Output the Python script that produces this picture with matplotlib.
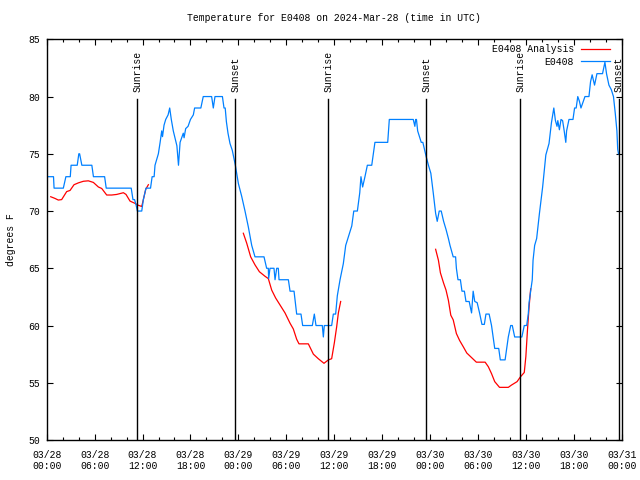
import numpy as np
import pandas as pd
import matplotlib
matplotlib.use("Agg")
import matplotlib.pyplot as plt
import matplotlib.dates as mdates
from matplotlib.ticker import MultipleLocator

# hours since 2024-03-28 00:00 UTC
obs_hours = [
    0.0, 0.85, 0.92, 2.08, 2.4, 2.95, 3.05, 3.82, 4.02, 4.12,
    4.4, 5.65, 5.85, 7.25, 7.45, 10.58, 10.8, 11.0, 11.2, 11.35,
    11.9, 12.1, 12.43, 13.0, 13.2, 13.45, 13.56, 13.98, 14.2, 14.4,
    14.5, 14.69, 14.9, 15.2, 15.4, 15.6, 15.85, 16.06, 16.3, 16.5,
    16.7, 16.9, 17.1, 17.2, 17.4, 17.7, 18.0, 18.36, 18.52, 19.3,
    19.6, 20.65, 20.86, 21.07, 22.0, 22.2, 22.35, 22.5, 22.7, 22.95,
    23.24, 23.62, 24.0, 24.41, 24.83, 25.25, 25.67, 26.08, 27.21, 27.54,
    27.75, 27.79, 27.96, 28.46, 28.59, 28.8, 29.0, 29.09, 30.26, 30.47,
    30.97, 31.3, 31.84, 32.05, 33.26, 33.51, 33.72, 34.51, 34.64, 34.76,
    35.68, 35.89, 36.18, 36.39, 36.73, 37.14, 37.44, 37.8, 38.2, 38.45,
    38.9, 39.2, 39.35, 39.56, 39.85, 40.15, 40.7, 40.9, 41.1, 42.7,
    42.9, 45.9, 46.1, 46.2, 46.3, 46.45, 46.9, 47.1, 47.5, 47.8,
    48.1, 48.4, 48.7, 48.9, 49.15, 49.4, 49.7, 50.0, 50.3, 50.5,
    50.9, 51.2, 51.3, 51.5, 51.8, 52.0, 52.3, 52.5, 52.9, 53.2,
    53.4, 53.6, 53.9, 54.2, 54.5, 54.8, 55.0, 55.4, 55.7, 55.9,
    56.1, 56.6, 56.8, 57.4, 57.6, 57.8, 58.1, 58.3, 58.6, 59.5,
    59.8, 60.1, 60.3, 60.4, 60.6, 60.8, 60.9, 61.1, 61.35, 61.7,
    62.1, 62.5, 62.9, 63.2, 63.5, 63.7, 63.9, 64.0, 64.2, 64.4,
    64.6, 64.8, 65.0, 65.1, 65.4, 65.9, 66.1, 66.3, 66.5, 66.7,
    66.9, 67.4, 67.9, 68.1, 68.3, 68.6, 68.9, 69.6, 69.9, 70.1,
    70.4, 70.7, 70.97, 71.2, 71.4, 71.5, 71.6,
]
obs_temps = [
    73, 73, 72, 72, 73, 73, 74, 74, 75, 75,
    74, 74, 73, 73, 72, 72, 71, 71, 70.5, 70,
    70, 71, 72, 72, 73, 73, 74, 75, 76, 77,
    76.5, 77.5, 78, 78.4, 79, 78, 77, 76.4, 75.7, 74,
    76, 76.4, 76.8, 76.4, 77.2, 77.4, 78, 78.4, 79, 79,
    80, 80, 79, 80, 80, 79, 79, 77.8, 76.8, 75.9,
    75.3, 74, 72.4, 71.3, 70, 68.6, 67, 66, 66, 65,
    65, 64.1, 65, 65, 64, 65, 65, 64, 64, 63,
    63, 61, 61, 60, 60, 61, 60, 60, 59, 60,
    60, 61, 61, 62.6, 64, 65.4, 67, 67.8, 68.7, 70,
    70, 71.6, 73, 72.1, 73, 74, 74, 75, 76, 76,
    78, 78, 77.4, 78, 78, 77, 76, 76, 74.8, 74,
    73.3, 71.6, 69.8, 69.1, 70, 70, 69.1, 68.4, 67.6, 67,
    66, 66, 65, 64, 64, 63, 63, 62.1, 62.1, 61.1,
    63, 62.1, 62, 61.1, 60.1, 60.1, 61, 61, 60, 59,
    58, 58, 57, 57, 58, 59, 60, 60, 59, 59,
    60, 60, 61, 62, 63, 64, 65.7, 67, 67.6, 69.8,
    72.1, 74.9, 75.9, 77.7, 79, 77.9, 77.4, 77.9, 77.1, 78,
    77.9, 77, 76, 77, 78, 78, 79, 79, 80, 79.6,
    79, 80, 80, 81.3, 81.9, 81, 82, 82, 83, 82,
    81, 80.6, 80, 78.5, 77, 75.4, 75,
]

# analysis only covers the night hours; nan breaks the line between nights
ana_hours = [
    0.5, 1.04, 1.45, 1.87, 2.5, 2.92, 3.42, 3.96, 4.59, 5.21,
    5.84, 6.47, 6.89, 7.51, 8.14, 8.76, 9.6, 9.93, 10.43, 11.06,
    11.48, 11.9, 12.1, 12.4, 12.73, np.nan,
    24.62, 25.04, 25.54, 26.08, 26.63, 27.34, 27.75, 28.17, 28.67, 29.21,
    29.84, 30.47, 30.88, 31.3, 31.59, 32.76, 33.39, 34.01, 34.72, 35.27,
    35.68, 36.02, 36.31, 36.52, 36.81, np.nan,
    48.7, 49.05, 49.3, 49.7, 50.0, 50.3, 50.6, 50.9, 51.3, 51.7,
    52.2, 52.6, 53.2, 53.8, 54.9, 55.3, 55.7, 56.1, 56.7, 57.8,
    58.2, 58.9, 59.3, 59.8, 60.0, 60.2, 60.4, 60.6,
]
ana_temps = [
    71.25, 71.1, 70.96, 71.0, 71.7, 71.8, 72.3, 72.46, 72.6, 72.64,
    72.5, 72.1, 71.97, 71.4, 71.4, 71.45, 71.6, 71.45, 70.87, 70.67,
    70.5, 70.4, 71.0, 71.9, 72.3, np.nan,
    68.06, 67.2, 66.0, 65.3, 64.7, 64.3, 64.1, 63.1, 62.4, 61.8,
    61.1, 60.2, 59.7, 58.8, 58.4, 58.4, 57.5, 57.1, 56.7, 57.0,
    57.1, 58.5, 59.9, 61.1, 62.1, np.nan,
    66.66, 65.7, 64.6, 63.7, 63.1, 62.2, 60.9, 60.5, 59.3, 58.7,
    58.1, 57.6, 57.2, 56.8, 56.8, 56.4, 55.8, 55.1, 54.6, 54.6,
    54.8, 55.1, 55.5, 55.9, 57.3, 59.6, 61.6, 63.2,
]

sun_labels = ["Sunrise", "Sunset", "Sunrise", "Sunset", "Sunrise", "Sunset"]
sun_hours = [11.35, 23.62, 35.26, 47.54, 59.3, 71.62]

start = mdates.date2num(pd.Timestamp("2024-03-28 00:00"))
end = mdates.date2num(pd.Timestamp("2024-03-31 00:00"))

def to_x(hours):
    return start + np.asarray(hours, dtype=float) / 24.0

fs = 7
plt.rcParams["font.family"] = ["Liberation Mono", "DejaVu Sans Mono"]
plt.rcParams["font.size"] = fs

fig = plt.figure(figsize=(6.4, 4.8), dpi=100)
ax = fig.add_axes([0.073, 0.0833, 0.8984, 0.8348])

ax.plot(to_x(ana_hours), ana_temps, color="#ff0000", lw=0.9, label="E0408 Analysis")
ax.plot(to_x(obs_hours), obs_temps, color="#0080ff", lw=0.9, label="E0408")

for lab, h in zip(sun_labels, sun_hours):
    ax.axvline(to_x(h), ymax=0.85, color="black", lw=1.0)
    ax.text(to_x(h), 80.4, lab, rotation=90, ha="center", va="bottom", fontsize=fs)

ax.set_xlim(start, end)
ax.set_ylim(50, 85)
ax.xaxis.set_major_locator(mdates.HourLocator(byhour=range(0, 24, 6)))
ax.xaxis.set_minor_locator(mdates.HourLocator(byhour=range(0, 24, 2)))
ax.xaxis.set_major_formatter(mdates.DateFormatter("%m/%d\n%H:%M"))
ax.yaxis.set_major_locator(MultipleLocator(5))
ax.tick_params(which="both", direction="in", top=True, right=True,
               colors="black", labelsize=fs)
ax.tick_params(which="major", length=4, width=0.8)
ax.tick_params(axis="x", which="major", pad=7)
ax.tick_params(axis="y", which="major", pad=5)
ax.tick_params(which="minor", length=2, width=0.8)
for s in ax.spines.values():
    s.set_linewidth(1.0)

ax.set_ylabel("degrees F", labelpad=9, fontsize=fs)
ax.set_title("Temperature for E0408 on 2024-Mar-28 (time in UTC)", pad=13, fontsize=fs)

ax.legend(loc="upper right", bbox_to_anchor=(0.983, 0.992), borderaxespad=0,
          frameon=False, markerfirst=False, fontsize=fs,
          handlelength=3.0, handletextpad=0.7, labelspacing=0.25, borderpad=0.2)

fig.savefig("out.png", dpi=100)
